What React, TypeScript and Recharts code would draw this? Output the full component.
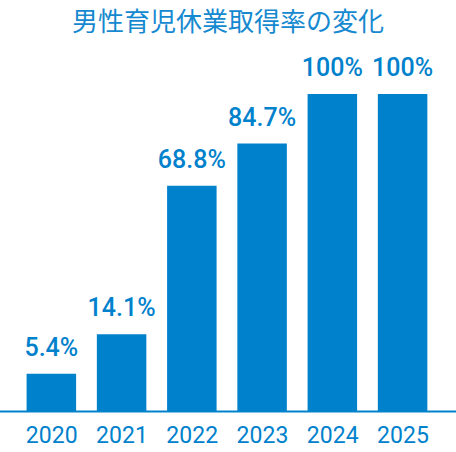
import React from "react";
import { BarChart, Bar, XAxis, YAxis, LabelList } from "recharts";

const years = ["2020", "2021", "2022", "2023", "2024", "2025"];
// Rates printed above the bars (%)
const rateLabels = [5.4, 14.1, 68.8, 84.7, 100, 100];
// Bar heights as drawn in the picture (in % of the axis range)
const barHeights = [11.9, 24.3, 71.1, 84.4, 100, 100];
const yDomain = [0, 100];

const data = years.map((y, i) => ({ year: y, height: barHeights[i], rate: rateLabels[i] }));

const BLUE = "#0081cc";

const renderValue = (props: any) => {
  const { x, y, width, index } = props;
  const v = rateLabels[index];
  return (
    <text
      x={x + width / 2}
      y={y - 18}
      textAnchor="middle"
      fill={BLUE}
      fontFamily="Roboto"
      fontWeight={500}
      fontSize={25}
    >
      {`${v}%`}
    </text>
  );
};

const renderTick = (props: any) => {
  const { x, y, payload } = props;
  return (
    <text x={x} y={y + 31.5} textAnchor="middle" fill={BLUE} fontFamily="Roboto" fontSize={23}>
      {payload.value}
    </text>
  );
};

export default function App() {
  return (
    <div style={{ position: "absolute", left: 0, top: 0, width: 456, height: 452, background: "#fff" }}>
      <div
        style={{
          position: "absolute",
          left: 0,
          top: -1.5,
          width: 456,
          height: 42,
          lineHeight: "42px",
          textAlign: "center",
          fontFamily: "'Noto Sans CJK JP'",
          fontSize: 26,
          fontWeight: 400,
          color: "#1589d0",
        }}
      >
        男性育児休業取得率の変化
      </div>
      <BarChart
        width={456}
        height={452}
        data={data}
        margin={{ top: 94, right: 0, bottom: 0, left: 0 }}
      >
        <YAxis hide domain={yDomain} />
        <XAxis
          dataKey="year"
          height={40.5}
          padding={{ left: 16.6, right: 17.9 }}
          axisLine={{ stroke: BLUE, strokeWidth: 2 }}
          tickLine={false}
          tickSize={0}
          tickMargin={0}
          tick={renderTick}
          interval={0}
        />
        <Bar dataKey="height" fill={BLUE} barSize={49.5} isAnimationActive={false}>
          <LabelList dataKey="rate" content={renderValue} />
        </Bar>
      </BarChart>
    </div>
  );
}
